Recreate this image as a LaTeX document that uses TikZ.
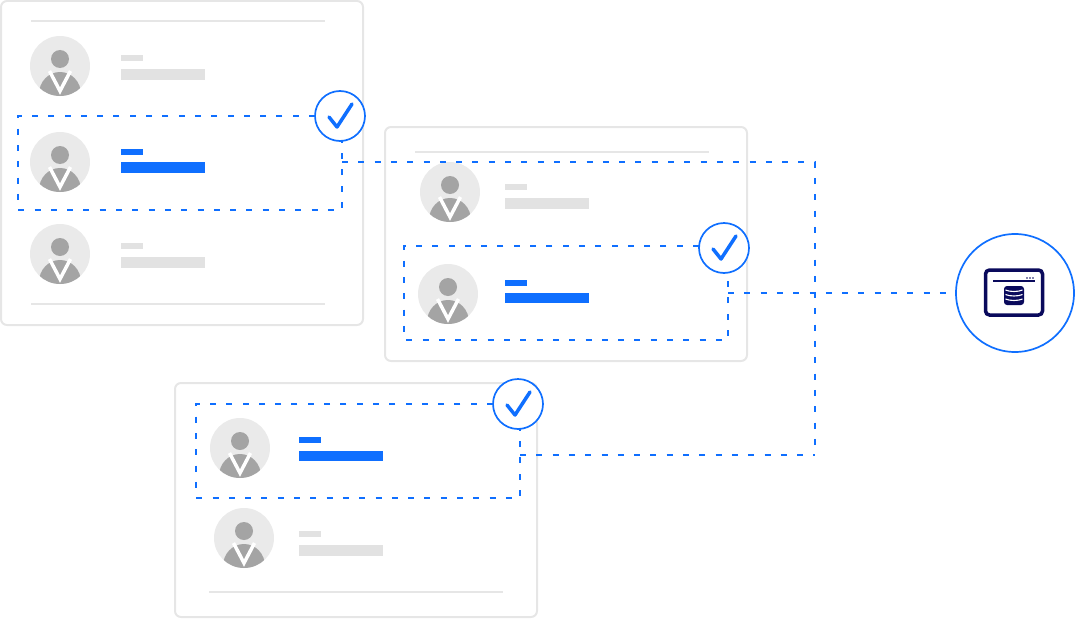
\documentclass[tikz,border=0pt]{standalone}
\usepackage{amsmath}
\usetikzlibrary{backgrounds}
\definecolor{linkblue}{HTML}{0F6FFF}
\definecolor{navyblue}{HTML}{0A0A5C}
\definecolor{cardgray}{HTML}{E6E6E6}
\definecolor{facegray}{HTML}{EAEAEA}
\definecolor{bodygray}{HTML}{A4A4A4}
\definecolor{bargray}{HTML}{E2E2E2}

\tikzset{
    card/.style={draw=cardgray, line width=2pt, rounded corners=6pt, minimum width=362pt, minimum height=#1, inner sep=0pt, outer sep=0pt},
    face/.style={circle, fill=facegray, minimum size=60pt, inner sep=0pt},
    badge/.style={circle, draw=linkblue, fill=white, line width=1.7pt, minimum size=50pt, inner sep=0pt, outer sep=0pt},
    link/.style={draw=linkblue, line width=1.5pt, dash pattern=on 6pt off 10.3pt},
    rule/.style={draw=cardgray, line width=2pt}
}

% one avatar: name, x, y
\newcommand{\avatar}[3]{
    \node[face] (#1) at (#2,#3) {};
    \fill[bodygray] (#2,#3-7) circle (9);
    \begin{scope}
        \clip (#2,#3) circle (30);
        \fill[bodygray] (#2,#3+28) ellipse (21 and 22);
        \draw[white, line width=3.5pt] (#2-10.5,#3+5) -- (#2,#3+25) -- (#2+10.5,#3+5);
    \end{scope}
}
% two bars: colour, x, y of top bar, y of lower bar
\newcommand{\bars}[4]{
    \fill[#1] (#2,#3) rectangle (#2+22,#3+6);
    \fill[#1] (#2,#4) rectangle (#2+84,#4+10.5);
}
% check circle: name, x, y
\newcommand{\checkbadge}[3]{
    \node[badge] (#1) at (#2,#3) {};
    \draw[linkblue, line width=3.5pt, line cap=round, line join=round] (#2-11,#3+1) -- (#2-3,#3+11) -- (#2+12,#3-12);
}

\begin{document}
\begin{tikzpicture}[x=1pt,y=-1pt]
        \useasboundingbox (0,0) rectangle (1075,618);

        \node[card=324pt] (carda) at (182,163) {};
        \node[card=234pt] (cardb) at (566,244) {};
        \node[card=234pt] (cardc) at (356,500) {};

        \draw[rule] (31,21.5) -- (325,21.5);
        \draw[rule] (31,303.5) -- (325,303.5);
        \draw[rule] (415,151.5) -- (709,151.5);
        \draw[rule] (209,591.5) -- (503,591.5);

        \avatar{facea}{60}{66}
        \avatar{faceb}{60}{162}
        \avatar{facec}{60}{254}
        \avatar{faced}{450}{192}
        \avatar{facee}{448}{294}
        \avatar{facef}{240}{448}
        \avatar{faceg}{244}{538}

        \bars{bargray}{121}{55}{69}
        \bars{linkblue}{121}{149}{162}
        \bars{bargray}{121}{243}{257}
        \bars{bargray}{505}{184}{198}
        \bars{linkblue}{505}{279.5}{292.5}
        \bars{linkblue}{299}{436.5}{450.5}
        \bars{bargray}{299}{531}{545}

        \checkbadge{chka}{340}{116}
        \checkbadge{chkb}{724}{248}
        \checkbadge{chkc}{518}{404}

        \node[circle, draw=linkblue, fill=white, line width=1.7pt, minimum size=118pt, inner sep=0pt, outer sep=0pt] (store) at (1015,293) {};

        % window with database
        \node[draw=navyblue, line width=3.5pt, rounded corners=4pt, minimum width=57pt, minimum height=45pt, inner sep=0pt] (window) at (1014,292.5) {};
        \draw[navyblue, line width=1.5pt] (993,281) -- (1035,281);
        \foreach \dotx in {1027,1030,1033}
            \fill[navyblue] (\dotx,278) circle (0.9);
        \fill[navyblue, rounded corners=3pt] (1004,286) rectangle (1024,305);
        \foreach \liney in {290,294.5,299}
            \draw[white, line width=1.1pt] (1005.5,\liney) .. controls (1010,\liney+2) and (1018,\liney+2) .. (1022.5,\liney);

        % dashed connectors
        \coordinate (boxa1) at (18,116);
        \coordinate (boxa2) at (18,210);
        \coordinate (boxa3) at (342,210);
        \coordinate (boxb1) at (404,246);
        \coordinate (boxb2) at (404,340);
        \coordinate (boxb3) at (728,340);
        \coordinate (boxc1) at (196,404);
        \coordinate (boxc2) at (196,498);
        \coordinate (boxc3) at (520,498);
        \coordinate (linka) at (342,162);
        \coordinate (linkb) at (815,162);
        \coordinate (linkc) at (815,455);
        \coordinate (linkd) at (520,455);
        \coordinate (linke) at (728,293);

        \draw[link] (chka.west) -- (boxa1) -- (boxa2) -- (boxa3) -- (boxa3 |- chka.south);
        \draw[link] (chkb.west |- boxb1) -- (boxb1) -- (boxb2) -- (boxb3) -- (boxb3 |- chkb.south);
        \draw[link] (chkc.west) -- (boxc1) -- (boxc2) -- (boxc3) -- (boxc3 |- chkc.south);
        \draw[link] (linka) -- (linkb) -- (linkc);
        \draw[link] (linkd) -- (linkc);
        \draw[link] (linke) -- (store.west);
    \end{tikzpicture}
\end{document}
